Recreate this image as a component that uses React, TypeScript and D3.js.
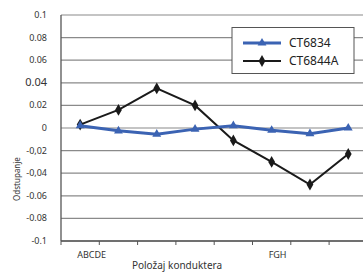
import React from 'react'
import * as d3 from 'd3'

const categories = ['1', '2', '3', '4', '5', '6', '7', '8']
const tickLabels = ['ABCDE', '', '', '', '', 'FGH', '', '']
const ct6834 = [0.002, -0.0025, -0.0055, -0.001, 0.002, -0.002, -0.005, 0]
const ct6844A = [0.003, 0.016, 0.035, 0.02, -0.011, -0.03, -0.05, -0.023]
const yTicks = [0.1, 0.08, 0.06, 0.04, 0.02, 0, -0.02, -0.04, -0.06, -0.08, -0.1]
const yTickText = ['0.1', '0.08', '0.06', '0.04', '0.02', '0', '-0,02', '-0,04', '-0.06', '-0.08', '-0.1']

const W = 363
const H = 275
const left = 61
const top = 15
const bottom = 241

const App = () => {
	const x = d3.scaleBand().domain(categories).range([left, left + 8 * 38.3])
	const y = d3.scaleLinear().domain([-0.1, 0.1]).range([bottom, top])
	const cx = (i: number) => x(categories[i])! + x.bandwidth() / 2

	const line = d3
		.line<number>()
		.x((_, i) => cx(i))
		.y((d) => y(d))

	const tri = d3.symbol().type(d3.symbolTriangle).size(34)()
	const dia = d3.symbol().type(d3.symbolDiamond).size(40)()

	return (
		<svg width={W} height={H} style={{ position: 'absolute', left: 0, top: 0 }} fontFamily="Noto Sans">
			<rect width={W} height={H} fill="#fff" />
			{yTicks.map((t) => (
				<line key={t} x1={left} x2={W} y1={y(t)} y2={y(t)} stroke="#8a8a8a" strokeWidth={1.2} />
			))}
			{yTicks.map((t, i) => (
				<text
					key={'l' + t}
					x={47}
					y={y(t) + 3}
					textAnchor="end"
					fontSize={t === 0.04 ? 11 : 9}
					fill="#333"
				>
					{yTickText[i]}
				</text>
			))}
			<line x1={left} x2={left} y1={top} y2={bottom} stroke="#555" strokeWidth={1.3} />
			<line x1={left} x2={W} y1={bottom} y2={bottom} stroke="#555" strokeWidth={1.3} />
			{categories.map((c) => (
				<line key={'t' + c} x1={x(c)!} x2={x(c)!} y1={bottom} y2={bottom + 4} stroke="#555" />
			))}
			{tickLabels.map((l, i) => (
				<text key={'x' + i} x={cx(i) - 3} y={258} fontSize={9} fill="#333">
					{l}
				</text>
			))}
			<text x={177} y={269} textAnchor="middle" fontSize={10} fill="#333">
				Položaj konduktera
			</text>
			<text
				transform="translate(20,179) rotate(-90)"
				textAnchor="middle"
				fontSize={8}
				fill="#333"
			>
				Odstupanje
			</text>

			<path d={line(ct6844A)!} fill="none" stroke="#1a1a1a" strokeWidth={2} />
			{ct6844A.map((v, i) => (
				<path key={'d' + i} d={dia!} transform={`translate(${cx(i)},${y(v)})`} fill="#1a1a1a" />
			))}
			<path d={line(ct6834)!} fill="none" stroke="#3b63b3" strokeWidth={3} />
			{ct6834.map((v, i) => (
				<path key={'b' + i} d={tri!} transform={`translate(${cx(i)},${y(v)})`} fill="#3b63b3" />
			))}

			<rect x={232} y={27.5} width={122} height={46} fill="#fff" stroke="#555" strokeWidth={1} />
			<line x1={243} x2={281} y1={43} y2={43} stroke="#3b63b3" strokeWidth={3} />
			<path d={tri!} transform="translate(262,43)" fill="#3b63b3" />
			<text x={289} y={47} fontSize={12} fill="#222">
				CT6834
			</text>
			<line x1={243} x2={281} y1={61} y2={61} stroke="#1a1a1a" strokeWidth={2} />
			<path d={dia!} transform="translate(262,61)" fill="#1a1a1a" />
			<text x={289} y={65} fontSize={12} fill="#222">
				CT6844A
			</text>
		</svg>
	)
}

export default App
